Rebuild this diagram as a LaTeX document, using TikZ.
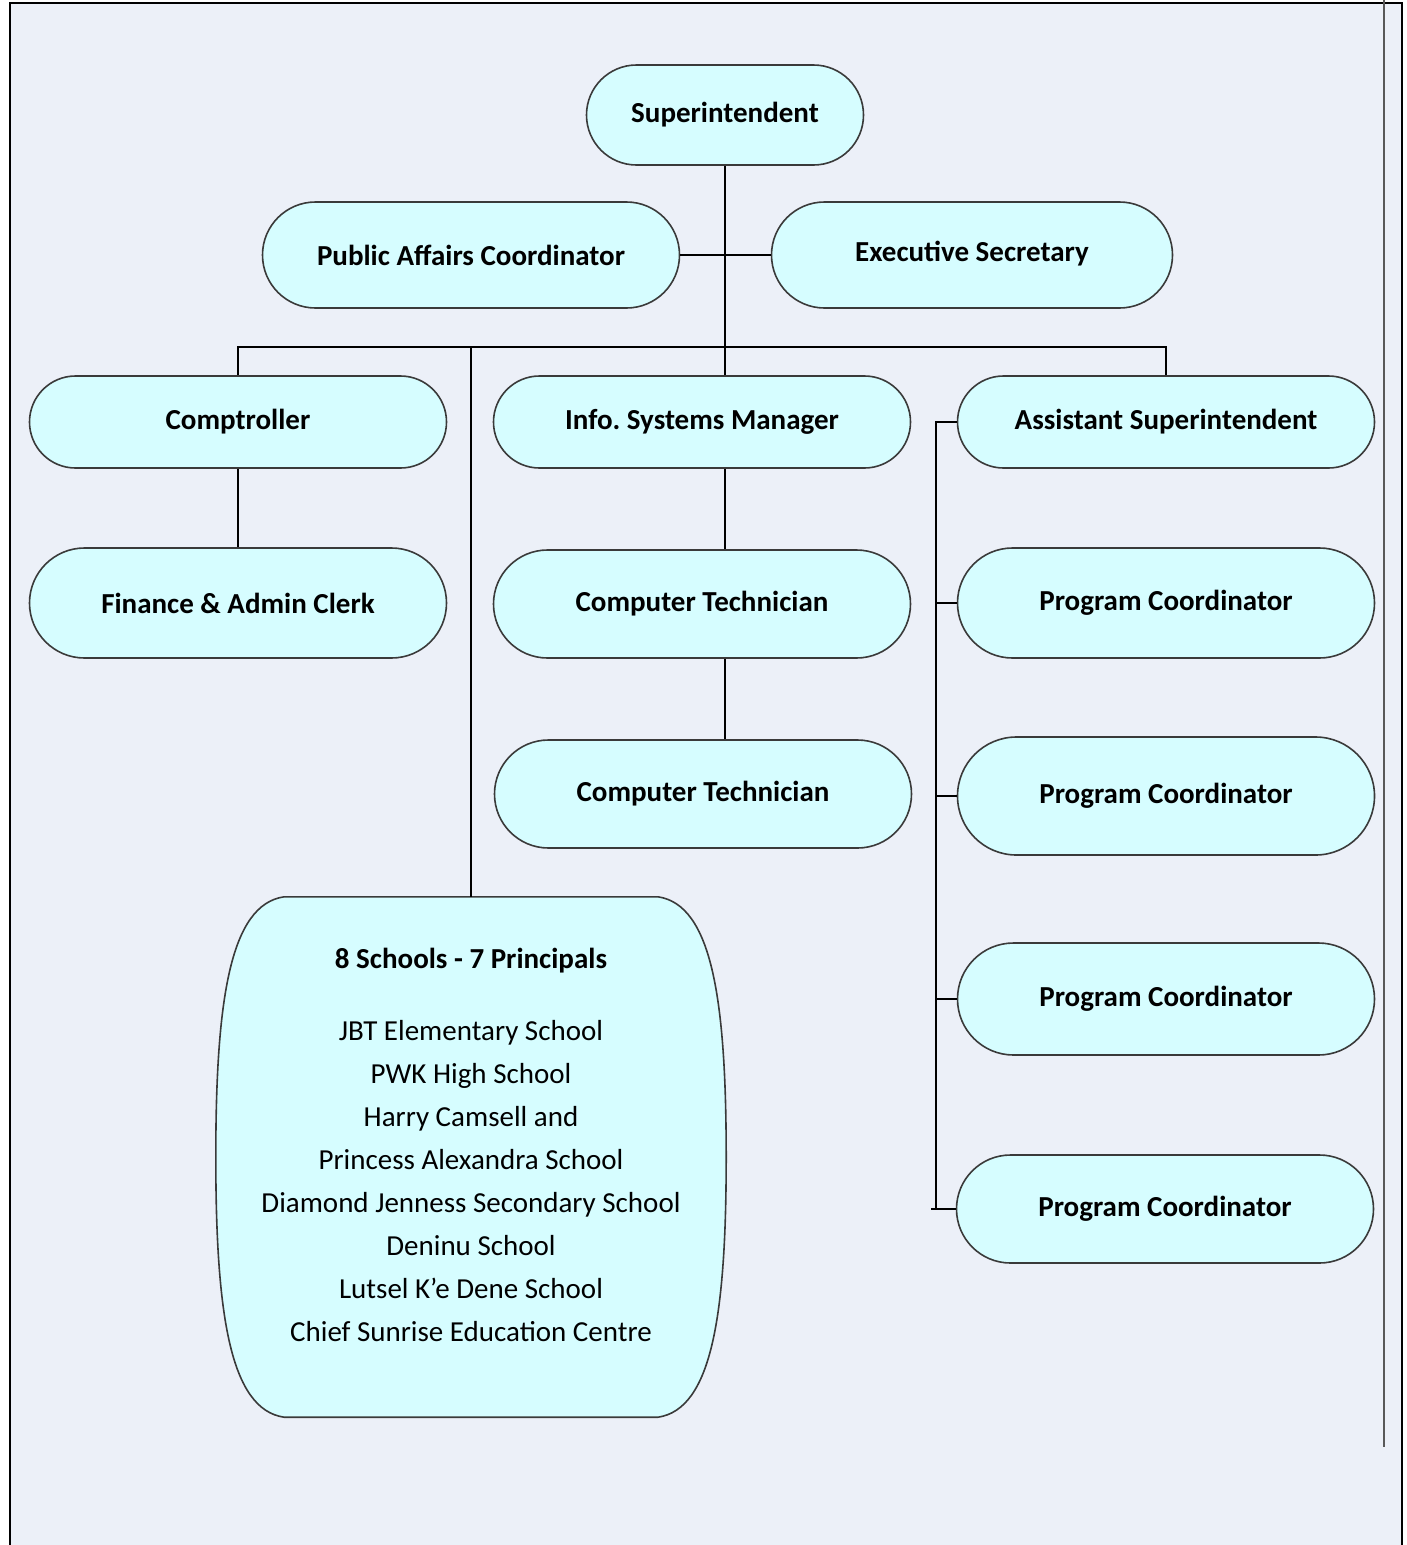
\documentclass[tikz,border=0pt]{standalone}
\usepackage{fontspec}
\setmainfont{Carlito}
\usepackage{tikz}
\usetikzlibrary{shapes.misc}
\usetikzlibrary{backgrounds}
\definecolor{pagebg}{HTML}{ECF0F8}
\definecolor{boxfill}{HTML}{D6FDFF}
\definecolor{boxline}{HTML}{3A3A3A}

\begin{document}
\begin{tikzpicture}[x=1pt, y=-1pt,
    every node/.style={font=\fontsize{29}{43}\selectfont},
    role/.style={rounded rectangle, draw=boxline, line width=1.6pt, fill=boxfill,
      font=\fontsize{29}{43}\selectfont\bfseries, minimum width=417pt, minimum height=#1, inner sep=0pt},
    role/.default=92pt,
    link/.style={draw=black, line width=1.8pt}
  ]
  \useasboundingbox (0,0) rectangle (1407,1545);
  \begin{scope}[on background layer]
    \fill[white] (0,0) rectangle (1407,1545);
    \fill[pagebg] (10,3) rectangle (1402,1550);
  \end{scope}
  \draw[line width=2.5pt] (10,1550) -- (10,3) -- (1402,3) -- (1402,1550);
  \draw[gray!70!black, line width=2pt] (1384,0) -- (1384,1447);

  % top
  \node[role=100pt, minimum width=277pt] (sup) at (725,115) {Superintendent};
  \node[role=106pt] (pac) at (471,255) {Public Affairs Coordinator};
  \node[role=106pt, minimum width=401pt] (exec) at (972,255) {\raisebox{7pt}{Executive Secretary}};

  % second row
  \node[role] (comp) at (238,422) {Comptroller};
  \node[role] (info) at (702,422) {Info.\ Systems Manager};
  \node[role] (asst) at (1166,422) {Assistant Superintendent};

  \node[role=110pt] (fin) at (238,603) {Finance \& Admin Clerk};
  \node[role=108pt] (ct1) at (702,604) {Computer Technician};
  \node[role=108pt] (ct2) at (703,794) {Computer Technician};

  \node[role=110pt] (pc1) at (1166,603) {Program Coordinator};
  \node[role=118pt] (pc2) at (1166,796) {Program Coordinator};
  \node[role=112pt] (pc3) at (1166,999) {Program Coordinator};
  \node[role=108pt] (pc4) at (1165,1209) {Program Coordinator};

  % schools
  \node[minimum width=510pt, minimum height=520pt, inner sep=0pt,
    label={[align=center, yshift=12pt]center:{\textbf{8 Schools - 7 Principals}\\[29pt]
     JBT Elementary School\\
     PWK High School\\
     Harry Camsell and\\
     Princess Alexandra School\\
     Diamond Jenness Secondary School\\
     Deninu School\\
     Lutsel K’e Dene School\\
     Chief Sunrise Education Centre}}] (schools) at (471,1157) {};
  \begin{scope}[on background layer]
    \draw[draw=boxline, line width=1.6pt, fill=boxfill]
      ([xshift=-187pt]schools.north) -- ([xshift=187pt]schools.north)
      .. controls ([xshift=241pt, yshift=-8pt]schools.north) and ([yshift=157pt]schools.east) .. (schools.east)
      .. controls ([yshift=-157pt]schools.east) and ([xshift=241pt, yshift=8pt]schools.south) .. ([xshift=187pt]schools.south)
      -- ([xshift=-187pt]schools.south)
      .. controls ([xshift=-241pt, yshift=8pt]schools.south) and ([yshift=-157pt]schools.west) .. (schools.west)
      .. controls ([yshift=157pt]schools.west) and ([xshift=-241pt, yshift=-8pt]schools.north) .. cycle;
  \end{scope}

  \coordinate (bus) at (725,347);
  \coordinate (spine) at (936,0);

  % links
  \draw[link] (sup.south) -- (info.north -| sup.south);
  \draw[link] (pac.east) -- (exec.west);
  \draw[link] (comp.north) -- (comp.north |- bus) -- (asst.north |- bus) -- (asst.north);
  \draw[link] (schools.north) -- (schools.north |- bus);
  \draw[link] (comp.south) -- (fin.north);
  \draw[link] (info.south -| sup.south) -- (ct1.north -| sup.south);
  \draw[link] (ct1.south -| sup.south) -- (ct2.north -| sup.south);
  \draw[link] (asst.west) -- (asst.west -| spine) -- (pc4.west -| spine);
  \foreach \p in {pc1,pc2,pc3}
    \draw[link] (\p.west -| spine) -- (\p.west);
  \draw[link] ([xshift=-5pt]pc4.west -| spine) -- (pc4.west);
\end{tikzpicture}
\end{document}
